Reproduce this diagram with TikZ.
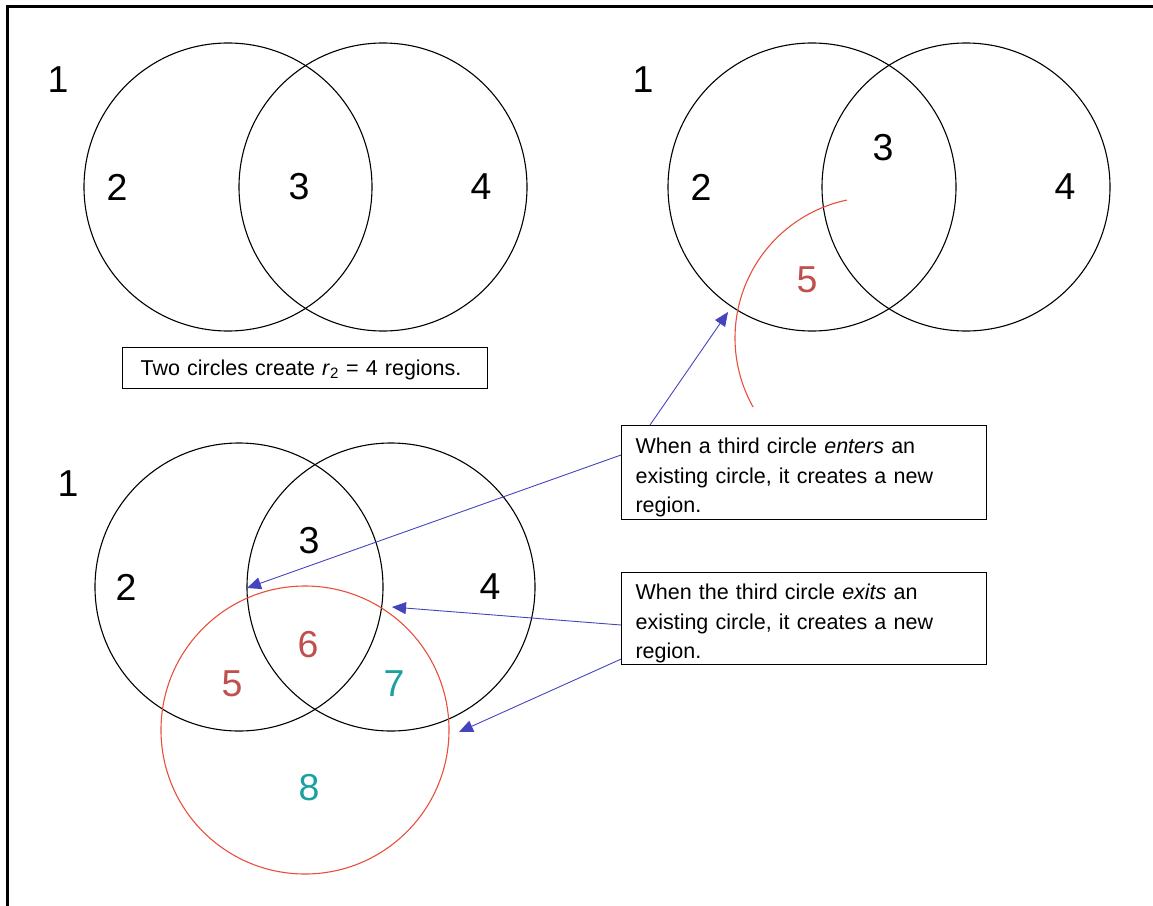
\documentclass[tikz,border=0pt]{standalone}
\usepackage{fontspec}
\setmainfont{Liberation Sans}
\usepackage{xcolor}
\usetikzlibrary{arrows.meta,positioning}

\definecolor{ringred}{RGB}{232,80,60}
\definecolor{numred}{RGB}{192,80,77}
\definecolor{numteal}{RGB}{26,160,160}
\definecolor{pointerblue}{RGB}{68,68,190}

\begin{document}
\begin{tikzpicture}[
    x=1pt, y=-1pt,
    ring/.style={
        circle,
        draw=black,
        line width=1.1pt,
        minimum size=288pt,
        inner sep=0pt
    },
    num/.style={font=\fontsize{37.5}{40}\selectfont, inner sep=0pt},
    note/.style={
        rectangle,
        draw=black,
        line width=1.1pt,
        anchor=north west,
        align=left,
        font=\fontsize{21.5}{29.5}\selectfont,
        inner xsep=14pt,
        inner ysep=0pt,
        text width=337pt
    },
    pointer/.style={-{Triangle[length=14pt, width=12pt]}, draw=pointerblue, line width=0.9pt}
]
\useasboundingbox (0,0) rectangle (1153,905);

% frame (left and top edges only show)
\draw[line width=3pt] (7,912) -- (7,6) -- (1160,6);

% =========================================
% Top left: two circles
% =========================================
\node[ring] (tlA) at (228,187) {};
\node[ring] (tlB) at (383,187) {};
\node[num] (tlOne)   at (58,80)  {1};
\node[num] (tlTwo)   at (117,187) {2};
\node[num] (tlThree) at (299,187) {3};
\node[num] (tlFour)  at (481,187) {4};

\node[note, text width=329pt, inner xsep=18pt, text height=27.5pt, text depth=13.5pt]
    (twoCircles) at (122,347) {Two circles create \textit{r}\textsubscript{2} = 4 regions.};

% =========================================
% Top right: third circle enters
% =========================================
\node[ring] (trA) at (812,187) {};
\node[ring] (trB) at (966,187) {};
\draw[ringred, line width=1.1pt] (876,338) ++(258.1:141)
    arc[start angle=258.1, end angle=150.7, radius=141];
\node[num] (trOne)   at (643,80)  {1};
\node[num] (trTwo)   at (701,187) {2};
\node[num] (trThree) at (883,148) {3};
\node[num] (trFour)  at (1065,187) {4};
\node[num, text=numred] (trFive) at (807,280) {5};

% =========================================
% Bottom: three circles
% =========================================
\node[ring] (bA) at (239,587) {};
\node[ring] (bB) at (391,587) {};
\node[ring, draw=ringred] (bC) at (305,730) {};
\node[num] (bOne)   at (68,484)  {1};
\node[num] (bTwo)   at (126,587) {2};
\node[num] (bThree) at (309,541) {3};
\node[num] (bFour)  at (490,587) {4};
\node[num, text=numred]  (bFive)  at (232,684) {5};
\node[num, text=numred]  (bSix)   at (308,645) {6};
\node[num, text=numteal] (bSeven) at (394,684) {7};
\node[num, text=numteal] (bEight) at (309,788) {8};

% =========================================
% Notes
% =========================================
\node[note, text height=28pt, text depth=66pt] (enters) at (621,425) {%
    When a third circle \textit{enters} an\\
    existing circle, it creates a new\\
    region.};
\node[note, text height=27pt, text depth=65pt] (exits) at (621,572) {%
    When the third circle \textit{exits} an\\
    existing circle, it creates a new\\
    region.};

% =========================================
% Arrows
% =========================================
\coordinate (enterTop) at (728,312);
\coordinate (enterBot) at (247,588);
\coordinate (exitB)    at (392,607);
\coordinate (exitC)    at (459,732);

\draw[pointer] ([xshift=29pt]enters.north west) -- (enterTop);
\draw[pointer] ([yshift=-30pt]enters.north west) -- (enterBot);
\draw[pointer] ([yshift=-53pt]exits.north west) -- (exitB);
\draw[pointer] ([yshift=6pt]exits.south west) -- (exitC);

\end{tikzpicture}
\end{document}
